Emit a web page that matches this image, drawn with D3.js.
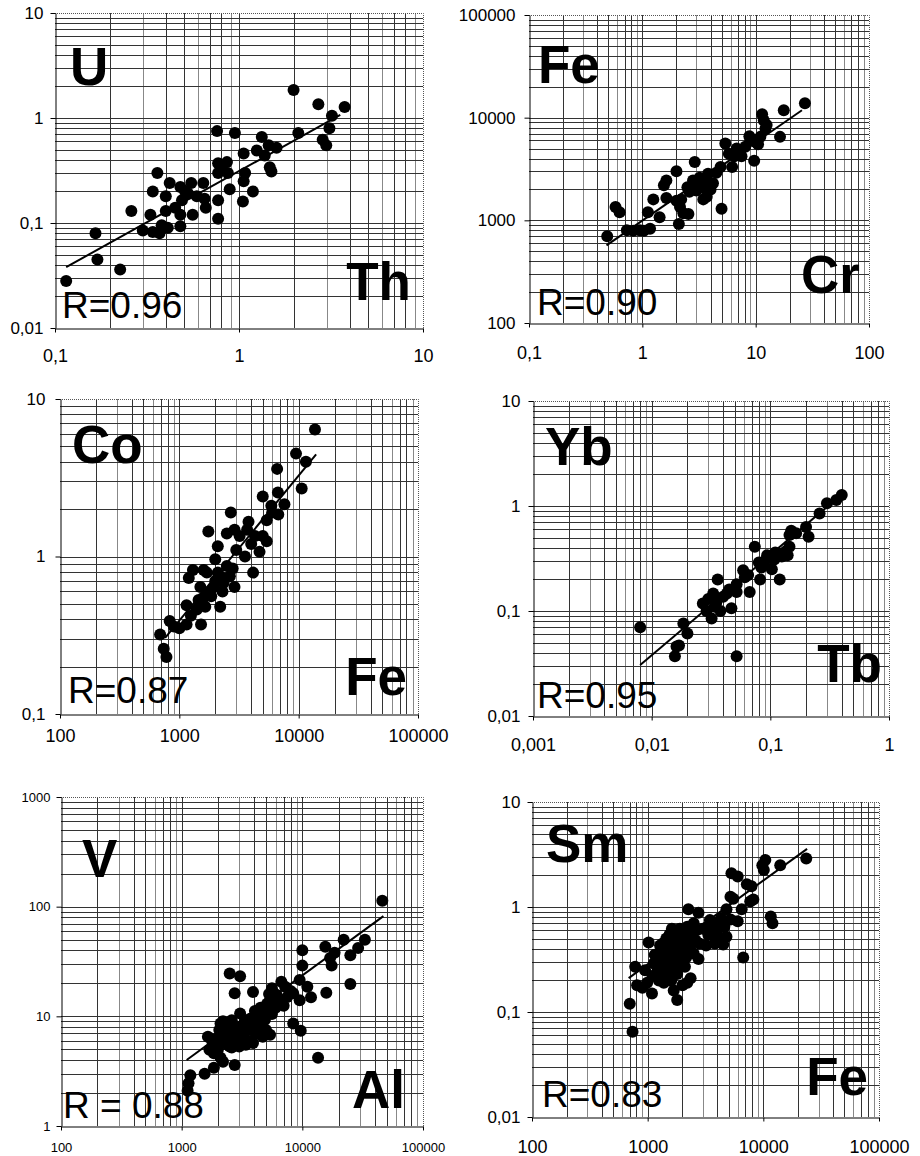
<!DOCTYPE html>
<html lang="en">
<head>
<meta charset="UTF-8">
<title>log-log scatter</title>
<script src="https://cdn.jsdelivr.net/npm/d3@7/dist/d3.min.js"></script>
<style>
  body { margin: 0; background: #fff; }
  svg { font-family: "Liberation Sans", Arial, sans-serif; }
</style>
</head>
<body>

<svg width="920" height="1156"></svg>

<script>

    // data: [x, y]
    var thU = [[0.115,0.028],[0.166,0.08],[0.17,0.045],[0.226,0.036],[0.26,0.13],[0.3,0.085],[0.33,0.12],
        [0.34,0.2],[0.36,0.3],[0.34,0.082],[0.37,0.08],[0.40,0.18],[0.42,0.24],[0.40,0.13],[0.41,0.09],
        [0.48,0.22],[0.49,0.165],[0.48,0.12],[0.48,0.093],[0.51,0.2],[0.55,0.24],[0.56,0.12],[0.59,0.18],
        [0.64,0.24],[0.65,0.17],[0.66,0.14],[0.76,0.75],[0.77,0.37],[0.77,0.3],[0.77,0.165],[0.77,0.11],
        [0.86,0.38],[0.87,0.3],[0.89,0.21],[0.95,0.72],[1.06,0.46],[1.08,0.3],[1.06,0.25],[1.05,0.16],
        [1.19,0.2],[1.25,0.49],[1.33,0.66],[1.38,0.44],[1.47,0.34],[1.6,0.52],[1.98,1.85],[2.1,0.72],
        [2.7,1.35],[2.85,0.62],[2.98,0.55],[3.1,0.8],[3.2,1.05],[3.75,1.27],[0.45,0.14],[0.53,0.19],
        [0.38,0.095],[1.45,0.55],[1.5,0.31],[0.8,0.33]];
    var crFe = [[0.49,700],[0.58,1350],[0.63,1200],[0.73,800],[0.83,790],[0.95,800],[1.03,790],[1.17,830],
        [1.12,1200],[1.25,1600],[1.42,1070],[1.55,2200],[1.63,2450],[1.63,1650],[2.0,3000],[2.0,1550],
        [2.1,920],[2.15,1350],[2.3,1170],[2.55,1150],[2.5,2100],[2.8,2450],[2.9,3700],[3.0,1950],[3.2,2600],
        [3.35,2100],[3.45,1600],[3.8,2850],[3.7,1700],[4.2,2300],[5.0,1300],[4.9,3300],[5.4,5600],[5.8,4450],
        [6.2,3300],[6.8,5000],[7.5,4200],[8.1,5200],[8.8,6600],[9.7,3800],[10.5,5500],[11.4,10800],
        [11.8,9400],[12.2,7800],[16.4,6500],[17.7,11800],[27.2,13800],[3.0,2300],[3.6,2500],[4.5,2900],
        [6.5,4200],[7,4700],[9,6000],[10,5800],[11,6500],[12.5,8500],[2.6,1900],[2.2,1600],[4,2000]];
    var feCo = [[13700,6.4],[9500,4.5],[11500,4.0],[10600,2.7],[6600,3.6],[6700,2.55],[7600,2.15],
        [6750,1.85],[5900,2.1],[5000,2.4],[5400,1.7],[5000,1.35],[5400,1.25],[4700,1.07],[4150,0.79],
        [4300,1.35],[3800,1.66],[3700,1.48],[3550,1.0],[3200,1.35],[2900,1.48],[2700,1.9],[2500,1.4],
        [2900,0.64],[2800,0.84],[2650,0.75],[2500,0.87],[2350,0.68],[2200,0.48],[2100,0.79],[2100,1.16],
        [2000,0.96],[1950,0.64],[1750,1.44],[1700,0.79],[1850,0.56],[1600,0.82],[1650,0.48],[1500,0.64],
        [1450,0.53],[1400,0.46],[1520,0.37],[1300,0.82],[1200,0.73],[1150,0.49],[1250,0.42],[1150,0.37],
        [1000,0.35],[900,0.36],[830,0.39],[690,0.32],[740,0.26],[780,0.23],[2300,0.6],[2000,0.7],
        [1800,0.6],[3000,1.1],[4000,1.2],[6000,1.9],[1600,0.55],[2200,0.75]];
    var tbYb = [[0.008,0.07],[0.0157,0.037],[0.0162,0.046],[0.017,0.047],[0.0185,0.076],[0.02,0.061],
        [0.027,0.118],[0.029,0.1],[0.032,0.085],[0.033,0.147],[0.034,0.11],[0.036,0.2],[0.038,0.1],
        [0.040,0.137],[0.043,0.147],[0.047,0.106],[0.052,0.037],[0.052,0.18],[0.052,0.152],[0.059,0.245],
        [0.061,0.21],[0.067,0.152],[0.074,0.41],[0.08,0.29],[0.082,0.2],[0.084,0.26],[0.094,0.34],
        [0.103,0.25],[0.108,0.31],[0.12,0.2],[0.12,0.35],[0.14,0.34],[0.145,0.41],[0.145,0.53],[0.15,0.58],
        [0.165,0.55],[0.2,0.63],[0.21,0.51],[0.26,0.85],[0.3,1.06],[0.36,1.14],[0.4,1.27],[0.035,0.12],
        [0.03,0.13],[0.045,0.16],[0.065,0.22],[0.09,0.3],[0.11,0.36],[0.125,0.33],[0.135,0.37]];
    var alV = [[46000,113],[33000,50],[29000,42],[25000,36],[25000,19.7],[22000,50],[17000,34],[17500,29],
        [18500,38],[15500,43],[15800,16.4],[13500,4.2],[11800,14.9],[11000,18.6],[10000,40],[10000,29],
        [9500,21.5],[9500,14],[9700,7.4],[8400,8.6],[8400,16.2],[7200,18.6],[6700,20.7],[7000,12.5],
        [6100,15.7],[5600,18],[5400,14.1],[5000,11.4],[4900,9.3],[5400,6.8],[4500,8.8],[4050,11.2],
        [3900,16.7],[3550,8.1],[3450,5.9],[3900,5.7],[3050,23.2],[2950,7],[2750,16.2],[2750,3.6],[2500,24.6],
        [2600,9.2],[2500,5.3],[2350,7],[2200,3.85],[2100,8.6],[1950,5.5],[1850,4.6],[1850,3.4],[1650,6.5],
        [1550,3.0],[1700,4.95],[1180,2.9],[1140,2.45],[1120,2.1],[3050,10.6],[3350,9.2],[2700,6.5],
        [2150,6.1],[2300,8],[2800,6],[3200,6.5],[3600,7.5],[4000,8.5],[4300,10],[4600,11],[5200,12.5],
        [2400,5.5],[2000,5],[2600,7.5],[3000,8],[3800,6],[4200,7],[5600,10.5],[6300,14],[2100,4.2],
        [1800,5.8],[3400,5.5],[4700,6.5],[5000,7.5],[2200,6.5],[2500,6.8],[2700,7.2],[2900,6.2],[3100,7],
        [3300,7.8],[3500,8.8],[3700,9.5],[3900,9],[4100,9.8],[4400,10.5],[4800,11.5],[5100,13],[2300,5.8],
        [2600,5.2],[1900,6.2],[2050,7.5],[2400,8.5],[3300,6.2],[4500,12],[5300,16],[5800,15],[6000,12],
        [6800,13.5],[7500,15],[8000,17],[2200,9],[4600,7.8],[3000,5.3]];
    var feSm = [[23500,2.9],[14000,2.5],[10400,2.8],[9800,2.5],[10100,2.25],[11600,0.81],[12000,0.7],
        [6700,0.33],[5300,2.1],[6000,1.95],[7200,1.65],[7900,1.58],[7700,1.13],[8200,1.18],[5200,1.25],
        [5500,1.2],[4800,0.95],[6500,0.95],[6000,0.73],[5200,0.76],[4800,0.52],[4500,0.44],[3950,0.7],
        [4100,0.5],[3450,0.75],[3350,0.54],[3200,0.43],[2750,0.88],[2650,0.6],[2750,0.32],[2250,0.95],
        [2350,0.44],[2350,0.21],[2200,0.19],[2200,0.65],[2100,0.5],[1950,0.34],[1800,0.28],[1800,0.13],
        [1680,0.16],[1680,0.44],[1620,0.62],[1570,0.32],[1450,0.23],[1380,0.19],[1420,0.36],[1280,0.43],
        [1220,0.25],[1130,0.29],[1090,0.15],[1020,0.46],[990,0.19],[900,0.17],[810,0.18],[780,0.27],
        [700,0.12],[740,0.065],[1280,0.31],[1800,0.39],[2500,0.36],[3700,0.56],[1530,0.42],[1800,0.23],
        [2100,0.27],[1300,0.38],[1700,0.5],[2000,0.42],[2300,0.55],[1500,0.3],[1900,0.3],[2800,0.45],
        [3000,0.62],[3600,0.7],[4300,0.78],[1200,0.33],[1350,0.45],[1450,0.5],[1550,0.36],[1650,0.27],
        [1750,0.35],[1850,0.47],[1950,0.55],[2050,0.38],[2150,0.33],[2400,0.5],[2600,0.48],[1400,0.27],
        [1600,0.2],[1100,0.22],[1900,0.62],[2500,0.7],[3300,0.65],[1250,0.2],[2000,0.18],[1700,0.4],
        [2200,0.4],[1150,0.35],[950,0.25],[1550,0.55],[4000,0.6],[4600,0.65],[3800,0.45]];

    // trend lines: start and end, in data units
    var trendU = [[0.115,0.038],[3.55,1.07]];
    var trendCr = [[0.483,571],[25.6,11800]];
    var trendCo = [[760,0.304],[14000,4.45]];
    var trendYb = [[0.008,0.0306],[0.41,1.32]];
    var trendV = [[1100,4],[47000,82]];
    var trendSm = [[685,0.21],[23900,3.58]];

    var yNames = ["U", "Fe", "Co", "Yb", "V", "Sm"];
    var xNames = ["Th", "Cr", "Fe", "Tb", "Al", "Fe"];
    var rTexts = ["R=0.96", "R=0.90", "R=0.87", "R=0.95", "R = 0.88", "R=0.83"];

    var xDomains = [[0.1,10],[0.1,100],[100,100000],[0.001,1],[100,100000],[100,100000]];
    var yDomains = [[0.01,10],[100,100000],[0.1,10],[0.01,10],[1,1000],[0.01,10]];

    var xTickLabels = [["0,1","1","10"], ["0,1","1","10","100"], ["100","1000","10000","100000"],
        ["0,001","0,01","0,1","1"], ["100","1000","10000","100000"], ["100","1000","10000","100000"]];
    var yTickLabels = [["0,01","0,1","1","10"], ["100","1000","10000","100000"], ["0,1","1","10"],
        ["0,01","0,1","1","10"], ["1","10","100","1000"], ["0,01","0,1","1","10"]];

    var points = [thU, crFe, feCo, tbYb, alV, feSm];
    var trends = [trendU, trendCr, trendCo, trendYb, trendV, trendSm];

    // layout: plot box [left, top, right, bottom], label offsets from the box
    var layout = [
        {box:[55,13,423,328],   yPos:[15,72], xPos:[-12,-28], rPos:[7,-10], fs:17, xfs:18, xGap:17, yGap:7},
        {box:[529,15,869,323],  yPos:[9,68],  xPos:[-9,-30],  rPos:[8,-8],  fs:17, xfs:18, xGap:19, yGap:9},
        {box:[60,399,418,714],  yPos:[12,64], xPos:[-11,-19], rPos:[8,-11], fs:17, xfs:18, xGap:11, yGap:10},
        {box:[533,401,889,716], yPos:[12,64], xPos:[-7,-34],  rPos:[4,-8],  fs:17, xfs:18, xGap:18, yGap:8},
        {box:[61,797,423,1126], yPos:[21,80], xPos:[-18,-18], rPos:[2,-8],  fs:13, xfs:13, xGap:12, yGap:6},
        {box:[532,802,879,1117],yPos:[14,60], xPos:[-11,-22], rPos:[10,-10],fs:17, xfs:18, xGap:19, yGap:7}
    ];

    var svg = d3.select("svg");

    //all values 1..9 x 10^k in a log domain
    function gridValues(dom) {
        var out = [];
        var e0 = Math.round(Math.log10(dom[0])), e1 = Math.round(Math.log10(dom[1]));
        for (var e = e0; e < e1; e++) {
            for (var m = 1; m < 10; m++) out.push(m * Math.pow(10, e));
        }
        out.push(dom[1]);
        return out;
    }
    function majorValues(dom) {
        var out = [];
        var e0 = Math.round(Math.log10(dom[0])), e1 = Math.round(Math.log10(dom[1]));
        for (var e = e0; e <= e1; e++) out.push(Math.pow(10, e));
        return out;
    }
    function snap(v) { return Math.round(v) + 0.5; }

    points.forEach(function (pts, i) {
        var L = layout[i];
        var x = d3.scaleLog().domain(xDomains[i]).range([L.box[0], L.box[2]]);
        var y = d3.scaleLog().domain(yDomains[i]).range([L.box[3], L.box[1]]);
        var g = svg.append("g");

        // grid
        var grid = g.append("g").attr("stroke", "#333").attr("stroke-width", 1)
            .attr("shape-rendering", "crispEdges");
        grid.selectAll(".vx").data(gridValues(xDomains[i]).slice(1, -1)).enter().append("line")
            .attr("x1", function (d) { return snap(x(d)); })
            .attr("x2", function (d) { return snap(x(d)); })
            .attr("y1", L.box[1]).attr("y2", L.box[3])
            .attr("stroke", function (d, k) { return k % 3 === 1 ? "#888" : "#333"; });
        grid.selectAll(".hy").data(gridValues(yDomains[i]).slice(1, -1)).enter().append("line")
            .attr("y1", function (d) { return snap(y(d)); })
            .attr("y2", function (d) { return snap(y(d)); })
            .attr("x1", L.box[0]).attr("x2", L.box[2]);

        // dotted top / right frame
        g.append("path")
            .attr("d", "M" + L.box[0] + "," + (L.box[1] + 0.5) + "H" + (L.box[2] + 0.5) + "V" + L.box[3])
            .attr("fill", "none").attr("stroke", "#555").attr("stroke-dasharray", "1,1");

        // axes
        var ax = d3.axisBottom(x).tickValues(majorValues(xDomains[i]))
            .tickFormat(function (d, k) { return xTickLabels[i][k]; })
            .tickSize(4).tickSizeOuter(0).tickPadding(L.xGap);
        var ay = d3.axisLeft(y).tickValues(majorValues(yDomains[i]))
            .tickFormat(function (d, k) { return yTickLabels[i][k]; })
            .tickSize(5).tickSizeOuter(0).tickPadding(L.yGap);
        var gx = g.append("g").attr("transform", "translate(0," + snap(L.box[3]) + ")").call(ax);
        var gy = g.append("g").attr("transform", "translate(" + snap(L.box[0]) + ",0)").call(ay);
        gx.selectAll("text").attr("font-size", L.xfs).attr("font-family", null).attr("fill", "#000");
        gy.selectAll("text").attr("font-size", L.fs).attr("font-family", null).attr("fill", "#000");
        gx.selectAll("line,path").attr("stroke", "#000");
        gy.selectAll("line,path").attr("stroke", "#000");

        // points
        g.append("g").selectAll("circle").data(pts).enter().append("circle")
            .attr("cx", function (d) { return x(d[0]); })
            .attr("cy", function (d) { return y(d[1]); })
            .attr("r", 6).attr("fill", "#000");

        // trend line
        g.append("path")
            .attr("d", d3.line().x(function (d) { return x(d[0]); }).y(function (d) { return y(d[1]); })(trends[i]))
            .attr("stroke", "#000").attr("stroke-width", 2).attr("fill", "none");

        // labels
        g.append("text").attr("x", L.box[0] + L.yPos[0]).attr("y", L.box[1] + L.yPos[1])
            .attr("font-size", 53).attr("font-weight", "bold").text(yNames[i]);
        g.append("text").attr("x", L.box[2] + L.xPos[0]).attr("y", L.box[3] + L.xPos[1])
            .attr("text-anchor", "end").attr("font-size", 53).attr("font-weight", "bold").text(xNames[i]);
        g.append("text").attr("x", L.box[0] + L.rPos[0]).attr("y", L.box[3] + L.rPos[1])
            .attr("font-size", 37).text(rTexts[i]);
    });

</script>
</body>
</html>
